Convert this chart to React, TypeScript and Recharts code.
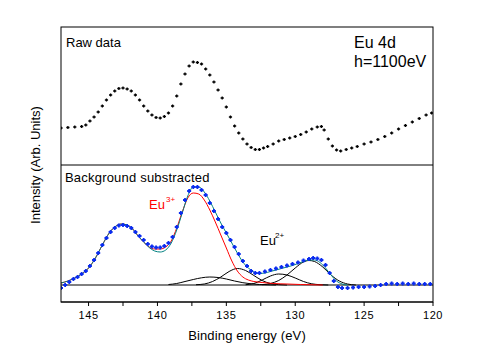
import React from 'react';
import { ComposedChart, Line, Scatter, XAxis, YAxis, ReferenceLine } from 'recharts';

// binding energy (eV), intensity (arb.)
const rawData: [number, number][] = [
  [147.0, 37], [146.5, 37.5], [146.0, 38], [145.5, 38.5], [145.2, 40], [144.9, 44], [144.6, 48],
  [144.3, 53], [144.0, 59], [143.7, 65], [143.4, 70], [143.1, 74], [142.8, 76.5], [142.5, 77],
  [142.2, 76], [141.9, 74], [141.6, 70], [141.3, 65], [141.0, 59], [140.7, 54], [140.4, 50],
  [140.1, 47.5], [139.8, 47], [139.5, 48.5], [139.2, 52], [138.9, 59], [138.6, 69], [138.3, 81],
  [138.0, 91], [137.7, 99], [137.4, 103], [137.1, 102.5], [136.8, 101], [136.5, 96], [136.2, 90],
  [135.9, 83], [135.6, 75], [135.3, 67], [135.0, 58], [134.7, 48], [134.4, 39], [134.1, 32],
  [133.8, 26], [133.5, 21], [133.2, 17.5], [132.9, 15.5], [132.6, 15.5], [132.3, 17], [132.0, 18.5],
  [131.6, 21], [131.2, 24], [130.8, 25.5], [130.4, 27], [130.0, 28.5], [129.6, 30.5], [129.2, 33],
  [128.8, 36], [128.4, 38], [128.1, 38.5], [127.9, 35], [127.6, 26], [127.3, 19], [127.0, 15],
  [126.7, 14], [126.3, 15.5], [125.9, 17], [125.5, 18.5], [125.0, 21], [124.5, 23], [124.0, 25.5],
  [123.5, 28.5], [123.0, 32], [122.5, 36], [122.0, 39.5], [121.5, 43], [121.0, 46.5], [120.5, 50],
  [120.1, 52],
];

const subData: [number, number][] = [
  [147.0, -3], [146.7, 0], [146.4, 3], [146.1, 6], [145.8, 8], [145.5, 11], [145.2, 14], [144.9, 19],
  [144.6, 25], [144.3, 32], [144.0, 40], [143.7, 47], [143.4, 53], [143.1, 57], [142.8, 59.5],
  [142.5, 60], [142.2, 59], [141.9, 57], [141.6, 53], [141.3, 49], [141.0, 45], [140.7, 41],
  [140.4, 38.5], [140.1, 37.5], [139.8, 37.5], [139.5, 39], [139.2, 42], [138.9, 48], [138.6, 58],
  [138.3, 72], [138.0, 85], [137.7, 94], [137.4, 98], [137.1, 98], [136.8, 95], [136.5, 90],
  [136.2, 82], [135.9, 74], [135.6, 66], [135.3, 58], [135.0, 52], [134.7, 45], [134.4, 38],
  [134.1, 31], [133.8, 24], [133.5, 19], [133.2, 14], [132.9, 12], [132.6, 12], [132.2, 13.5],
  [131.8, 15], [131.4, 16.5], [131.0, 18], [130.6, 19.5], [130.2, 21], [129.8, 22.5], [129.4, 24.5],
  [129.0, 26], [128.7, 27], [128.4, 26.5], [128.1, 25], [127.8, 20], [127.5, 12], [127.2, 4],
  [126.9, -2], [126.6, -3], [126.2, -3], [125.8, -2.5], [125.4, -2], [125.0, -2], [124.6, -1.5],
  [124.2, -1], [123.8, 0], [123.4, 1], [123.0, 1.5], [122.6, 1], [122.2, 1.5], [121.8, 1],
  [121.4, 1.5], [121.0, 1], [120.6, 1], [120.2, 1],
];

const totalFit: [number, number][] = [
  [147.0, 2], [146.5, 4], [146.0, 7], [145.5, 11], [145.0, 17], [144.5, 27], [144.0, 40], [143.5, 52],
  [143.0, 59], [142.6, 61], [142.2, 60], [141.8, 56], [141.4, 49], [141.0, 43], [140.6, 37.5],
  [140.2, 34], [139.8, 33], [139.4, 35], [139.0, 42], [138.6, 55], [138.2, 72], [137.8, 89],
  [137.4, 98], [137.0, 98], [136.6, 93], [136.2, 84], [135.8, 73], [135.4, 62], [135.0, 52],
  [134.6, 42], [134.2, 32], [133.8, 23], [133.4, 17], [133.0, 13], [132.6, 11.5], [132.2, 12],
  [131.8, 13.5], [131.4, 15], [131.0, 16.5], [130.6, 18], [130.2, 19.5], [129.8, 21.5], [129.4, 23.5],
  [129.0, 25], [128.6, 25], [128.2, 22.5], [127.8, 17], [127.4, 10], [127.0, 4], [126.6, 1], [126.2, 0],
];

const eu3Fit: [number, number][] = [
  [147.0, 2], [146.5, 4], [146.0, 7], [145.5, 11], [145.0, 17], [144.5, 27], [144.0, 40], [143.5, 52],
  [143.0, 59], [142.6, 61], [142.2, 60], [141.8, 56], [141.4, 49], [141.0, 43], [140.6, 38],
  [140.2, 36], [139.8, 36], [139.4, 38], [139.0, 44], [138.6, 57], [138.2, 73], [137.8, 87],
  [137.4, 92], [137.0, 91], [136.6, 85], [136.2, 75], [135.8, 63], [135.4, 50], [135.0, 37],
  [134.6, 24], [134.2, 14], [133.8, 8], [133.4, 5], [133.0, 3.5], [132.4, 2.5], [131.6, 1.5],
  [130.6, 1], [129.6, 0.5], [128.0, 0],
];

const comp1: [number, number][] = [
  [139.2, 0.5], [138.6, 1.5], [138.0, 3.5], [137.4, 5.5], [136.8, 7.2], [136.2, 8], [135.6, 7.5],
  [135.0, 6], [134.4, 4], [133.8, 2.3], [133.2, 1.2], [132.6, 0.5], [132.0, 0.2], [131.4, 0],
];
const comp2: [number, number][] = [
  [137.2, 0.3], [136.6, 1], [136.0, 3.5], [135.4, 8], [134.8, 13.5], [134.2, 16.5], [133.6, 14.5],
  [133.0, 9.5], [132.4, 4.5], [131.8, 1.5], [131.2, 0.4], [130.6, 0],
];
const comp3: [number, number][] = [
  [133.6, 0.3], [133.0, 1.5], [132.4, 5], [131.8, 9], [131.2, 11], [130.6, 10], [130.0, 7],
  [129.4, 3.5], [128.8, 1.2], [128.2, 0.3], [127.6, 0],
];
const comp4: [number, number][] = [
  [132.4, 0.3], [131.8, 1.5], [131.2, 4.5], [130.6, 10], [130.0, 17], [129.4, 23], [129.0, 24.5],
  [128.6, 23.5], [128.0, 18], [127.4, 10], [126.8, 4], [126.2, 1], [125.6, 0],
];

const energyTicks = [145, 142.5, 140, 137.5, 135, 132.5, 130, 127.5, 125, 122.5, 120];

const toPoints = (arr: [number, number][]) => arr.map(([e, v]) => ({ e, v }));

const FONT = '"Liberation Sans", Arial, sans-serif';
const W = 479;
const H = 361;
const LEFT = 61;
const RIGHT = 433;
const TOP = 27;
const MID = 165;
const BOTTOM = 302;

const Plus = (color: string, size: number, width: number) => (props: any) => {
  const { cx, cy } = props;
  if (cx == null || cy == null) return null;
  return (
    <path
      d={`M${cx - size},${cy} h${size * 2} M${cx},${cy - size} v${size * 2}`}
      stroke={color}
      strokeWidth={width}
      fill="none"
    />
  );
};

const App: React.FC = () => {
  const margin = { left: LEFT, right: W - RIGHT };
  return (
    <div style={{ position: 'absolute', left: 0, top: 0, width: W, height: H, background: '#fff', fontFamily: FONT }}>
      {/* top panel: raw data */}
      <div style={{ position: 'absolute', left: 0, top: 0 }}>
        <ComposedChart width={W} height={MID} margin={{ ...margin, top: TOP, bottom: 0 }}>
          <XAxis type="number" dataKey="e" domain={[120, 147]} reversed hide allowDataOverflow />
          <YAxis type="number" dataKey="v" domain={[0, 138]} hide allowDataOverflow />
          <Scatter data={toPoints(rawData)} dataKey="v" shape={Plus('#000', 1.6, 1.3)} isAnimationActive={false} />
        </ComposedChart>
      </div>

      {/* bottom panel: background subtracted + fit */}
      <div style={{ position: 'absolute', left: 0, top: MID }}>
        <ComposedChart width={W} height={H - MID} margin={{ ...margin, top: 0, bottom: 19 }}>
          <XAxis
            type="number"
            dataKey="e"
            domain={[120, 147]}
            reversed
            allowDataOverflow
            ticks={energyTicks}
            interval={0}
            height={40}
            tickSize={4}
            tickMargin={5}
            axisLine={{ stroke: '#000' }}
            tickLine={{ stroke: '#000' }}
            tick={{ fill: '#000', fontSize: 11, fontFamily: FONT, letterSpacing: 0.6 }}
            tickFormatter={(v: number) => (v % 5 === 0 ? String(v) : '')}
            label={{ value: 'Binding energy (eV)', position: 'insideBottom', offset: 2, fill: '#000', fontSize: 13, fontFamily: FONT, letterSpacing: 0.15 }}
          />
          <YAxis type="number" dataKey="v" domain={[-17, 120]} hide allowDataOverflow />
          <ReferenceLine y={0} stroke="#000" strokeWidth={1} />
          <Line data={toPoints(comp1)} dataKey="v" type="monotone" stroke="#000" strokeWidth={1} dot={false} isAnimationActive={false} />
          <Line data={toPoints(comp2)} dataKey="v" type="monotone" stroke="#000" strokeWidth={1} dot={false} isAnimationActive={false} />
          <Line data={toPoints(comp3)} dataKey="v" type="monotone" stroke="#000" strokeWidth={1} dot={false} isAnimationActive={false} />
          <Line data={toPoints(comp4)} dataKey="v" type="monotone" stroke="#000" strokeWidth={1} dot={false} isAnimationActive={false} />
          <Line data={toPoints(eu3Fit)} dataKey="v" type="monotone" stroke="#ff0000" strokeWidth={1} dot={false} isAnimationActive={false} />
          <Scatter data={toPoints(subData)} dataKey="v" shape={Plus('#0a2cf0', 2, 1.8)} isAnimationActive={false} />
          <Line data={toPoints(totalFit)} dataKey="v" type="monotone" stroke="#008080" strokeWidth={1} dot={false} isAnimationActive={false} />
        </ComposedChart>
      </div>

      {/* frame, panel divider and texts */}
      <svg width={W} height={H} style={{ position: 'absolute', left: 0, top: 0, pointerEvents: 'none' }}>
        <rect x={LEFT} y={TOP} width={RIGHT - LEFT} height={BOTTOM - TOP} fill="none" stroke="#000" strokeWidth={1} />
        <line x1={LEFT} x2={RIGHT} y1={MID} y2={MID} stroke="#000" strokeWidth={1} />
        <g fontFamily={FONT} fill="#000">
          <text x={66} y={47} fontSize={13}>Raw data</text>
          <text x={354} y={48} fontSize={16}>Eu 4d</text>
          <text x={354} y={67} fontSize={16}>h=1100eV</text>
          <text x={65} y={182} fontSize={13} letterSpacing={0.2}>Background substracted</text>
          <text x={149} y={209} fontSize={13} fill="#ff0000">Eu</text>
          <text x={166} y={202} fontSize={8} fill="#ff0000">3+</text>
          <text x={260} y={245} fontSize={13}>Eu</text>
          <text x={275} y={238} fontSize={8}>2+</text>
          <text
            x={0}
            y={0}
            fontSize={13}
            textAnchor="middle"
            transform={`translate(40, ${MID}) rotate(-90)`}
          >
            Intensity (Arb. Units)
          </text>
        </g>
      </svg>
    </div>
  );
};

export default App;
